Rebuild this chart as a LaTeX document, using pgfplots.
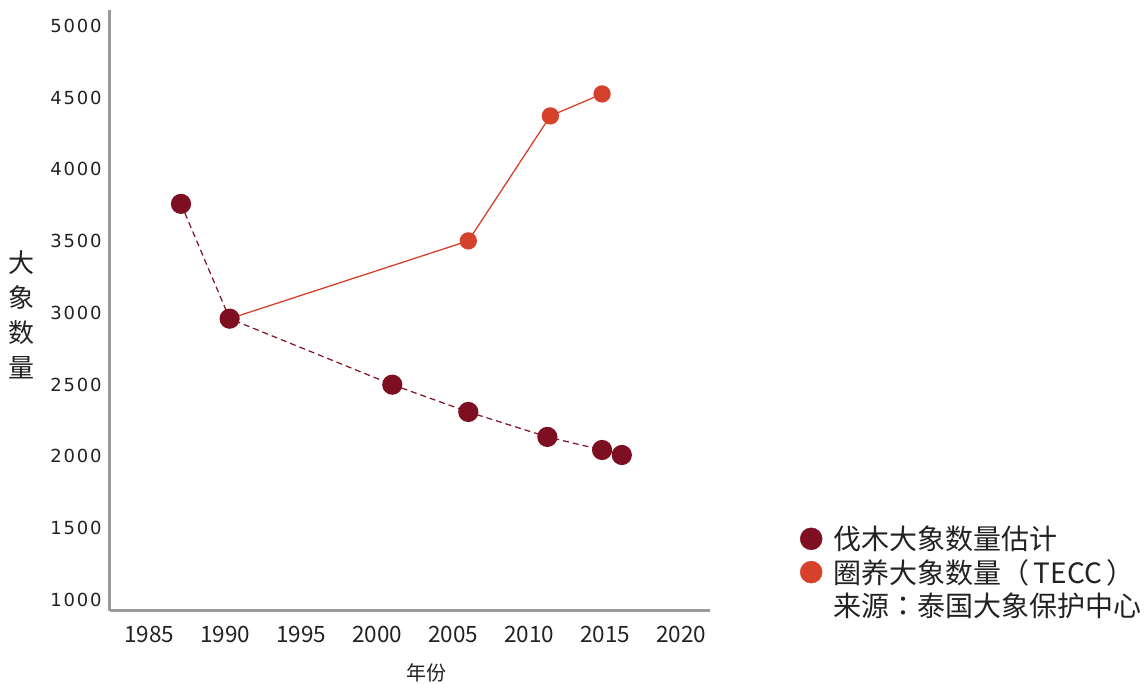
\documentclass[border=0pt]{standalone}
\usepackage{fontspec}
\usepackage{pgfplots}
\pgfplotsset{compat=1.18}
\setmainfont{Noto Sans CJK SC}
\newfontfamily\ytickfont[LetterSpace=10]{DejaVu Sans}
\newfontfamily\cjk{Noto Sans CJK SC}
\newfontfamily\cjktc{Noto Sans CJK TC}

\definecolor{logged}{HTML}{7E0F22}
\definecolor{captive}{HTML}{D5412B}
\definecolor{axisgray}{HTML}{9A9A9A}
\definecolor{txt}{HTML}{222222}

\begin{document}
\begin{tikzpicture}[x=1pt,y=1pt]
\useasboundingbox (0,0) rectangle (1146,684);
\begin{axis}[
  at={(110pt,73pt)}, anchor=south west,
  scale only axis, width=600pt, height=601pt,
  xmin=1982.43, xmax=2021.9,
  ymin=923, ymax=5111,
  axis x line=bottom, axis y line=left,
  axis line style={-, axisgray, line width=3pt},
  major tick length=0pt,
  xtick={1985,1990,...,2020},
  ytick={1000,1500,...,5000},
  /pgf/number format/assume math mode=true,
  /pgf/number format/set thousands separator={},
  xticklabel style={font=\cjk\fontsize{22.5}{24}\selectfont, text=txt, yshift=-12pt},
  yticklabel style={font=\ytickfont\fontsize{18}{20}\selectfont, text=txt, xshift=-5pt},
  xlabel={年份},
  xlabel style={font=\cjk\fontsize{20}{24}\selectfont, text=txt, at={(axis description cs:0.528,-0.103)}, anchor=center},
  ylabel={大\\象\\数\\量},
  ylabel style={font=\cjk\fontsize{26}{35}\selectfont, text=txt, align=center, rotate=-90, at={(axis description cs:-0.147,0.4925)}, anchor=center},
  clip=false,
  legend cell align=left,
  legend style={at={(axis description cs:1.145,0.148)}, anchor=north west, draw=none, fill=none,
    font=\cjktc\fontsize{28}{30}\selectfont, text=txt, row sep=4pt},
]
% legend entries
\addlegendimage{only marks, mark=*, mark size=11pt, color=logged, mark options={draw=logged, fill=logged}}
\addlegendentry{\hspace*{9pt}伐木大象数量估计}
\addlegendimage{only marks, mark=*, mark size=11pt, color=captive, mark options={draw=captive, fill=captive}}
\addlegendentry{\hspace*{9pt}圈养大象数量（\,TECC\,）}
\addlegendimage{empty legend}
\addlegendentry{\hspace*{9pt}来源：泰国大象保护中心}

% captive elephants (TECC)
\addplot[forget plot, color=captive, line width=1.3pt, mark=*, mark size=8pt,
  mark options={draw=captive, fill=captive}, mark indices={2,3,4}]
  coordinates {(1990.3,2960) (2006.0,3502) (2011.4,4373) (2014.8,4526)};

% estimated logging elephants
\addplot[forget plot, color=logged, line width=1.2pt, dash pattern=on 6pt off 4pt, mark=*, mark size=9.5pt,
  mark options={solid, draw=logged, fill=logged}]
  coordinates {(1987.1,3760) (1990.3,2960) (2001.0,2500) (2006.0,2310) (2011.2,2136) (2014.8,2045) (2016.1,2010)};
\end{axis}
\end{tikzpicture}
\end{document}
